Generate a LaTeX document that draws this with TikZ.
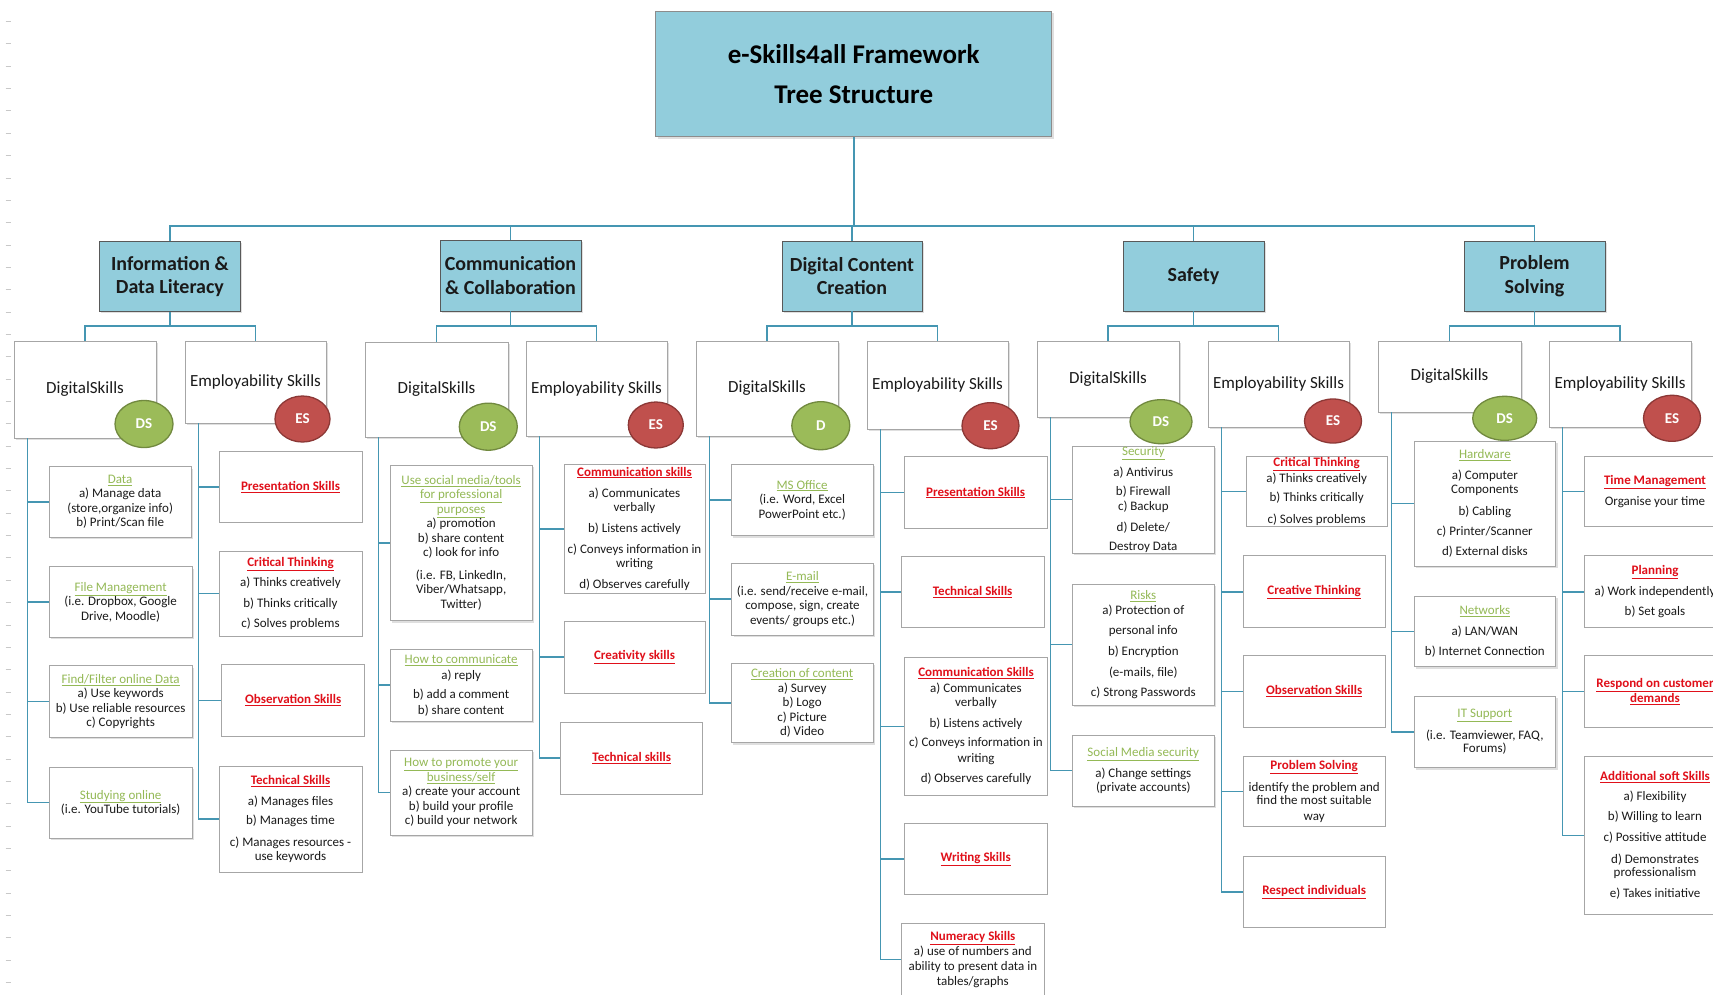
\documentclass[tikz,border=0pt]{standalone}
\usepackage{fontspec}
\setmainfont{Carlito}
\usetikzlibrary{shadows,shapes.geometric}
\definecolor{conn}{HTML}{4596B2}
\definecolor{catfill}{HTML}{92CDDC}
\definecolor{dsg}{HTML}{9BBB59}
\definecolor{dsgd}{HTML}{71893F}
\definecolor{esr}{HTML}{C0504D}
\definecolor{esrd}{HTML}{8C3836}
\definecolor{hred}{HTML}{E0101A}
\definecolor{hgreen}{HTML}{94B956}
\definecolor{bord}{HTML}{A6A6A6}
\definecolor{txt}{HTML}{1A1A1A}
\definecolor{tickc}{HTML}{C8C8C8}
\newcommand\gh[1]{{\color{hgreen}\underline{#1}}}
\newcommand\rh[1]{{\color{hred}\bfseries\underline{#1}}}
\newcommand\mybox[7]{\node[#2, minimum width={(#5)-(#3)}, minimum height={(#6)-(#4)}] (#1) at ({((#3)+(#5))/2},{((#4)+(#6))/2}) {#7};}
\tikzset{
  line/.style={draw=conn, line width=1.6pt},
  tick/.style={draw=tickc, line width=0.8pt},
  shad/.style={drop shadow={shadow xshift=2pt, shadow yshift=-2pt, opacity=0.25}},
  titlebox/.style={draw=black!45, fill=catfill, line width=0.8pt, shad, align=center, inner sep=0pt, font=\fontsize{27}{40}\selectfont\bfseries},
  catbox/.style={draw=black!65, fill=catfill, line width=0.8pt, shad, align=center, inner sep=0pt, font=\fontsize{20}{23.5}\selectfont\bfseries, text=txt},
  hdr/.style={draw=bord, fill=white, line width=0.7pt, shad, inner sep=0pt, font=\fontsize{17}{19}\selectfont, text=txt},
  dsitem/.style={draw=bord, fill=white, line width=0.7pt, shad, align=center, inner sep=0pt, font=\fontsize{13}{14.5}\selectfont, text=txt},
  esitem/.style={draw=bord, fill=white, line width=0.7pt, align=center, inner sep=0pt, font=\fontsize{13}{14.5}\selectfont, text=txt},
  dsell/.style={ellipse, draw=dsgd, fill=dsg, line width=1.3pt, text=white, inner sep=0pt, font=\fontsize{15}{15}\selectfont\bfseries},
  esell/.style={ellipse, draw=esrd, fill=esr, line width=1.3pt, text=white, inner sep=0pt, font=\fontsize{15}{15}\selectfont\bfseries},
}
\begin{document}
\begin{tikzpicture}[x=1pt,y=-1pt]
\useasboundingbox (0,0) rectangle (1713,994);
\clip (0,0) rectangle (1713,994);
\fill[white] (0,0) rectangle (1713,994);
\foreach \k in {-15,...,28} \draw[tick] (5.5,{356.7+22.35*\k}) -- (11,{356.7+22.35*\k});

% title and categories
\mybox{title}{titlebox}{655.7}{11}{1051.7}{136.7}{e-Skills4all Framework\\ Tree Structure}
\mybox{c1}{catbox}{99.4}{241.4}{240.4}{311.4}{Information \&\\ Data Literacy}
\mybox{c2}{catbox}{440}{240}{581}{311}{Communication\\ \& Collaboration}
\mybox{c3}{catbox}{782}{241}{922}{311}{Digital Content\\ Creation}
\mybox{c4}{catbox}{1123}{241}{1264}{311}{Safety}
\mybox{c5}{catbox}{1464}{241}{1605}{311}{Problem\\ Solving}

% headers
\mybox{ds1}{hdr}{14}{341}{156}{438}{DigitalSkills}
\mybox{es1}{hdr}{185}{341}{326}{423}{Employability Skills}
\mybox{ds2}{hdr}{365}{342}{508}{437}{DigitalSkills}
\mybox{es2}{hdr}{526}{341}{667}{436}{Employability Skills}
\mybox{ds3}{hdr}{696}{341}{838}{436}{DigitalSkills}
\mybox{es3}{hdr}{867}{341}{1008}{429}{Employability Skills}
\mybox{ds4}{hdr}{1037}{341}{1179}{417}{DigitalSkills}
\mybox{es4}{hdr}{1208}{341}{1349}{427}{Employability Skills}
\mybox{ds5}{hdr}{1378}{341}{1521}{412}{DigitalSkills}
\mybox{es5}{hdr}{1549}{341}{1691}{427}{Employability Skills}

% badges
\node[dsell, minimum width=58pt, minimum height=47pt] (ds1e) at (144,424) {DS};
\node[esell, minimum width=55pt, minimum height=46pt] (es1e) at (302.5,419) {ES};
\node[dsell, minimum width=58pt, minimum height=47pt] (ds2e) at (488.3,426.7) {DS};
\node[esell, minimum width=55pt, minimum height=46pt] (es2e) at (655.8,425) {ES};
\node[dsell, minimum width=58pt, minimum height=48pt] (ds3e) at (820.8,425.7) {D};
\node[esell, minimum width=57pt, minimum height=46pt] (es3e) at (990.5,425.7) {ES};
\node[dsell, minimum width=62pt, minimum height=44pt] (ds4e) at (1161,421.7) {DS};
\node[esell, minimum width=57pt, minimum height=44pt] (es4e) at (1333,421) {ES};
\node[dsell, minimum width=64pt, minimum height=44pt] (ds5e) at (1504.7,418.3) {DS};
\node[esell, minimum width=57pt, minimum height=46pt] (es5e) at (1672,418.3) {ES};

% column 1
\mybox{d1a}{dsitem}{49.3}{466.7}{191}{537}{\gh{Data}\\ a) Manage data\\ (store,organize info)\\ b) Print/Scan file}
\mybox{d1b}{dsitem}{49.3}{566.7}{192}{637.3}{\gh{File Management}\\ (i.e. Dropbox, Google\\ Drive, Moodle)}
\mybox{d1c}{dsitem}{49.3}{665.7}{192}{737.3}{\gh{Find/Filter online Data}\\ a) Use keywords\\ b) Use reliable resources\\ c) Copyrights}
\mybox{d1d}{dsitem}{49.3}{767.3}{192}{838}{\gh{Studying online}\\ (i.e. YouTube tutorials)}
\mybox{e1a}{esitem}{219}{451.7}{362}{522.7}{\rh{Presentation Skills}}
\mybox{e1b}{esitem}{219}{551}{362}{636}{\rh{Critical Thinking}\\[6pt] a) Thinks creatively\\[6pt] b) Thinks critically\\[6pt] c) Solves problems}
\mybox{e1c}{esitem}{221.7}{664.7}{364.7}{736}{\rh{Observation Skills}}
\mybox{e1d}{esitem}{219}{766}{362}{872}{\rh{Technical Skills}\\[6pt] a) Manages files\\[5pt] b) Manages time\\[7pt] c) Manages resources -\\ use keywords}

% column 2
\mybox{d2a}{dsitem}{390}{465}{532.3}{620.7}{\gh{Use social media/tools}\\ \gh{for professional}\\ \gh{purposes}\\ a) promotion\\ b) share content\\ c) look for info\\[8pt] (i.e. FB, LinkedIn,\\ Viber/Whatsapp,\\ Twitter)}
\mybox{d2b}{dsitem}{390}{649.3}{532.3}{721}{\gh{How to communicate}\\[1.5pt] a) reply\\[4.5pt] b) add a comment\\[1.5pt] b) share content}
\mybox{d2c}{dsitem}{390}{750}{532.3}{835}{\gh{How to promote your}\\ \gh{business/self}\\ a) create your account\\ b) build your profile\\ c) build your network}
\mybox{e2a}{esitem}{564}{464.3}{705}{593.3}{\rh{Communication  skills}\\[7pt] a) Communicates\\[-1pt] verbally\\[7pt] b) Listens actively\\[6.5pt] c) Conveys information in\\[-1pt] writing\\[7pt] d) Observes carefully}
\mybox{e2b}{esitem}{564}{621}{705}{693.3}{\rh{Creativity skills}}
\mybox{e2c}{esitem}{560.7}{722}{702.7}{794}{\rh{Technical skills}}

% column 3
\mybox{d3a}{dsitem}{731}{464.3}{873.3}{535.7}{\gh{MS Office}\\ (i.e. Word, Excel\\ PowerPoint etc.)}
\mybox{d3b}{dsitem}{731.7}{563.3}{873.3}{635}{\gh{E-mail}\\ (i.e. send/receive e-mail,\\ compose, sign, create\\ events/ groups etc.)}
\mybox{d3c}{dsitem}{731}{663.3}{873.3}{742.7}{\gh{Creation of  content}\\ a) Survey\\ b) Logo\\ c) Picture\\ d) Video}
\mybox{e3a}{esitem}{904}{456.7}{1047.3}{528.3}{\rh{Presentation Skills}}
\mybox{e3b}{esitem}{901}{556.7}{1044.3}{627.7}{\rh{Technical Skills}}
\mybox{e3c}{esitem}{904.3}{657.7}{1047.7}{795}{\rh{Communication  Skills}\\[1pt] a) Communicates\\[-0.5pt] verbally\\[6.5pt] b) Listens actively\\[5pt] c) Conveys information in\\[1pt] writing\\[6pt] d) Observes carefully}
\mybox{e3d}{esitem}{904}{823.3}{1047.3}{894.3}{\rh{Writing Skills}}
\mybox{e3e}{esitem}{901.7}{923.3}{1044}{996}{\rh{Numeracy Skills}\\[0.5pt] a) use of numbers and\\[0.5pt] ability to present data in\\[0.5pt] tables/graphs}

% column 4
\mybox{d4a}{dsitem}{1072.3}{446}{1214.3}{553.3}{\gh{Security}\\[6pt] a) Antivirus\\[5pt] b) Firewall\\[0.5pt] c) Backup\\[6pt] d) Delete/\\[5pt] Destroy Data}
\mybox{d4b}{dsitem}{1072.3}{584}{1214.3}{705}{\gh{Risks}\\[1pt] a) Protection of\\[5pt] personal info\\[6.5pt] b) Encryption\\[7pt] (e-mails, file)\\[5pt] c) Strong Passwords}
\mybox{d4c}{dsitem}{1072.3}{735}{1214.3}{806}{\gh{Social Media security}\\[6.5pt] a) Change settings\\ (private accounts)}
\mybox{e4a}{esitem}{1246}{456}{1387.3}{526.7}{\rh{Critical Thinking}\\[1pt] a) Thinks creatively\\[5pt] b) Thinks critically\\[7pt] c) Solves problems}
\mybox{e4b}{esitem}{1243.3}{555.7}{1385}{627.7}{\rh{Creative Thinking}}
\mybox{e4c}{esitem}{1243.3}{655.5}{1385}{727.3}{\rh{Observation Skills}}
\mybox{e4d}{esitem}{1243.3}{756}{1385}{826.7}{\rh{Problem Solving}\\[7pt] identify the problem and\\[-1pt] find the most suitable\\[1pt] way}
\mybox{e4e}{esitem}{1243.3}{856.7}{1385}{927.7}{\rh{Respect individuals}}

% column 5
\mybox{d5a}{dsitem}{1414}{441}{1555.7}{566}{\gh{Hardware}\\[6pt] a) Computer\\ Components\\[7pt] b) Cabling\\[5.5pt] c) Printer/Scanner\\[5.5pt] d) External disks}
\mybox{d5b}{dsitem}{1414}{596}{1555.7}{666.7}{\gh{Networks}\\[6pt] a) LAN/WAN\\[5.5pt] b) Internet Connection}
\mybox{d5c}{dsitem}{1414}{696}{1555.7}{767.7}{\gh{IT Support}\\[7pt] (i.e. Teamviewer, FAQ,\\[-1pt] Forums)}
\mybox{e5a}{esitem}{1584}{456}{1726}{526.7}{\rh{Time Management}\\[6.5pt] Organise your time}
\mybox{e5b}{esitem}{1584}{555.7}{1726}{627.7}{\rh{Planning}\\[6pt] a) Work independently\\[5.5pt] b) Set goals}
\mybox{e5c}{esitem}{1584}{655.5}{1726}{727.3}{\rh{Respond on customer}\\[0.5pt] \rh{demands}}
\mybox{e5d}{esitem}{1584}{756.7}{1726}{914}{\rh{Additional  soft Skills}\\[6pt] a) Flexibility\\[5.5pt] b) Willing to learn\\[6.5pt] c) Possitive attitude\\[7pt] d) Demonstrates\\[-1pt] professionalism\\[6.5pt] e) Takes initiative}

% main tree
\coordinate (bus) at (853.7,226);
\draw[line] (title.south) -- (title.south |- bus);
\draw[line] (c1.north) |- (bus);
\draw[line] (c5.north) |- (bus);
\draw[line] (c2.north) -- (c2.north |- bus);
\draw[line] (c3.north) -- (c3.north |- bus);
\draw[line] (c4.north) -- (c4.north |- bus);

% sub buses
\foreach \i in {1,...,5} {
  \path (c\i.south) ++(0,14.3) coordinate (j\i);
  \draw[line] (c\i.south) -- (j\i);
  \draw[line] (ds\i.north) |- (j\i);
  \draw[line] (es\i.north) |- (j\i);
  \path ([xshift=14pt]ds\i.south west) coordinate (vd\i);
  \path ([xshift=14pt]es\i.south west) coordinate (ve\i);
}

% branch connectors
\foreach \b in {d1a,d1b,d1c,d1d} \draw[line] (vd1) |- (\b.west);
\foreach \b in {e1a,e1b,e1c,e1d} \draw[line] (ve1) |- (\b.west);
\foreach \b in {d2a,d2b,d2c} \draw[line] (vd2) |- (\b.west);
\foreach \b in {e2a,e2b,e2c} \draw[line] (ve2) |- (\b.west);
\foreach \b in {d3a,d3b,d3c} \draw[line] (vd3) |- (\b.west);
\foreach \b in {e3a,e3b,e3c,e3d,e3e} \draw[line] (ve3) |- (\b.west);
\foreach \b in {d4a,d4b,d4c} \draw[line] (vd4) |- (\b.west);
\foreach \b in {e4a,e4b,e4c,e4d,e4e} \draw[line] (ve4) |- (\b.west);
\foreach \b in {d5a,d5b,d5c} \draw[line] (vd5) |- (\b.west);
\foreach \b in {e5a,e5b,e5c,e5d} \draw[line] (ve5) |- (\b.west);
\end{tikzpicture}
\end{document}
